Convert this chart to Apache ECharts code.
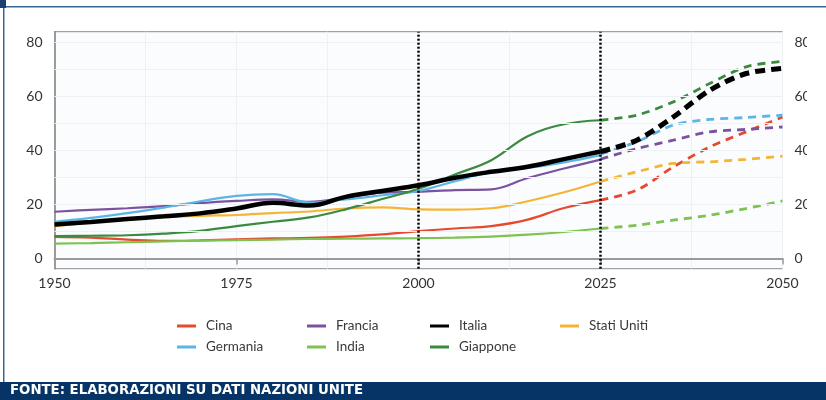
<!DOCTYPE html>
<html><head><meta charset="utf-8">
<script src="https://cdn.jsdelivr.net/npm/echarts@6/dist/echarts.min.js"></script>
<style>html,body{margin:0;padding:0;background:#fff}#c{width:826px;height:400px}</style>
</head><body><div id="c"></div><script>
const histYears = [1950,1955,1960,1965,1970,1975,1980,1985,1990,1995,2000,2005,2010,2015,2020,2025];
const projYears = [2025,2030,2035,2040,2045,2050];
const yTicks = [0,20,40,60,80];
const dividerYears = [2000,2025];
const gridValues = [10,20,30,40,50,60,70,80];

const cina      = [8.0,7.7,7.0,6.5,6.7,7.1,7.4,7.6,8.1,8.9,10.1,11.1,12.0,14.4,18.7,21.6];
const cinaProj  = [21.6,25.3,33.9,41.3,46.9,52.4];
const francia     = [17.3,18.0,18.6,19.4,20.5,21.3,21.9,21.0,22.5,24.4,24.7,25.3,25.6,29.8,33.3,36.6];
const franciaProj = [36.8,40.7,43.8,46.9,47.8,48.7];
const germania     = [13.6,15.0,16.8,18.8,21.2,23.2,23.8,20.7,21.9,23.4,25.0,28.6,32.0,33.5,35.6,38.3];
const germaniaProj = [38.6,43.2,49.4,51.5,52.2,53.1];
const italia     = [12.6,13.5,14.6,15.6,16.7,18.5,20.6,19.6,22.8,25.0,27.1,29.9,32.1,34.0,36.8,39.6];
const italiaProj = [39.6,43.8,52.4,62.3,68.5,70.4];
const statiUniti     = [12.0,13.3,14.5,15.3,15.8,16.1,16.8,17.4,18.5,18.9,18.2,18.1,18.6,21.2,24.5,28.5];
const statiUnitiProj = [28.5,32.1,35.2,35.8,36.7,37.9];
const giappone     = [8.3,8.4,8.6,9.2,10.2,12.0,13.6,15.2,18.2,22.0,25.8,31.1,36.4,45.3,49.7,51.2];
const giapponeProj = [51.2,53.1,58.0,64.8,71.0,73.0];
const india     = [5.5,5.7,6.0,6.3,6.6,6.8,7.0,7.2,7.3,7.4,7.5,7.7,8.1,8.8,9.8,11.1];
const indiaProj = [11.1,12.3,14.2,16.0,18.5,21.3];

const countries = [
  {name:'Cina', hist:cina, proj:cinaProj, color:'#e6492d', w:2.2, z:3},
  {name:'Francia', hist:francia, proj:franciaProj, color:'#7a529f', w:2.2, z:3},
  {name:'Germania', hist:germania, proj:germaniaProj, color:'#5bb5e6', w:2.2, z:3},
  {name:'Stati Uniti', hist:statiUniti, proj:statiUnitiProj, color:'#f4b536', w:2.2, z:3},
  {name:'India', hist:india, proj:indiaProj, color:'#7ec24f', w:2.2, z:3},
  {name:'Giappone', hist:giappone, proj:giapponeProj, color:'#3b8a40', w:2.2, z:4},
  {name:'Italia', hist:italia, proj:italiaProj, color:'#000000', w:4.5, z:5}
];

const FONT = 'Lato';
const series = [];
countries.forEach(c => {
  series.push({
    name:c.name, type:'line', smooth:0.4, symbol:'none', z:c.z,
    data: histYears.map((y,i)=>[y,c.hist[i]]),
    lineStyle:{color:c.color, width:c.w}, itemStyle:{color:c.color}
  });
  series.push({
    name:c.name, type:'line', smooth:0.3, symbol:'none', z:c.z,
    data: projYears.map((y,i)=>[y,c.proj[i]]),
    lineStyle:{color:c.color, width:c.w+0.6, type:[c.w>3?10:8, 6]}, itemStyle:{color:c.color}
  });
});
series.push({
  type:'line', data:[], silent:true, z:1,
  markLine:{silent:true, symbol:'none', label:{show:false},
    lineStyle:{color:'#eef1f4', width:1, type:'solid'},
    data: gridValues.map(v=>({yAxis:v}))}
});
series.push({
  type:'line', data:[], silent:true, z:6,
  markLine:{silent:true, symbol:'none', label:{show:false},
    lineStyle:{color:'#000', width:2.5, type:[2,2]},
    data: dividerYears.map(v=>({xAxis:v}))}
});

function legendCol(left, names){
  return {
    orient:'vertical', left:left, top:314, itemGap:7, itemWidth:19, itemHeight:3, icon:'rect',
    textStyle:{fontFamily:FONT, fontSize:13.5, color:'#3a3a3a', padding:[0,0,0,5]},
    data:names
  };
}

const chart = echarts.init(document.getElementById('c'), null, {renderer:'canvas'});
chart.setOption({
  animation:false,
  backgroundColor:'#ffffff',
  grid:{left:54.5, right:43.5, top:31.7, bottom:131.3, show:true,
        backgroundColor:'#fbfcfd', borderColor:'#8c8c8c', borderWidth:1},
  xAxis:{type:'value', min:1950, max:2050, interval:25,
    axisLine:{show:true, lineStyle:{color:'#9a9a9a', width:2}},
    axisTick:{show:true, length:6, lineStyle:{color:'#999', width:1.5}},
    minorTick:{show:false, splitNumber:2},
    axisLabel:{fontFamily:FONT, fontSize:14, color:'#333', margin:8, formatter:v=>String(v)},
    splitLine:{show:true, lineStyle:{color:'#eef1f4'}},
    minorSplitLine:{show:true, lineStyle:{color:'#eef1f4'}}
  },
  yAxis:[
    {type:'value', min:-3.8, max:84, position:'left',
     axisLine:{show:true, lineStyle:{color:'#7d7d7d', width:1.5}},
     axisTick:{show:false},
     splitLine:{show:false},
     axisLabel:{fontFamily:FONT, fontSize:14, color:'#333', margin:12, customValues:yTicks}
    },
    {type:'value', min:-3.8, max:84, position:'right',
     axisLine:{show:false}, axisTick:{show:false}, splitLine:{show:false},
     axisLabel:{fontFamily:FONT, fontSize:14, color:'#333', margin:12, customValues:yTicks}
    }
  ],
  legend:[
    legendCol(172, ['Cina','Germania']),
    legendCol(302, ['Francia','India']),
    legendCol(425, ['Italia','Giappone']),
    legendCol(555, ['Stati Uniti'])
  ],
  series: series,
  graphic:[
    {type:'rect', left:807, top:25, shape:{width:19, height:290}, style:{fill:'#ffffff'}, z:100},
    {type:'rect', left:0, top:6, shape:{width:826, height:1.5}, style:{fill:'#3d6593'}, z:100},
    {type:'rect', left:3, top:6, shape:{width:1.5, height:376}, style:{fill:'#3d6593'}, z:100},
    {type:'rect', left:0, top:0, shape:{width:6, height:8}, style:{fill:'#1d3f70'}, z:101},
    {type:'rect', left:0, top:382, shape:{width:826, height:18}, style:{fill:'#063466'}, z:100},
    {type:'text', left:10, top:384, style:{text:'FONTE: ELABORAZIONI SU DATI NAZIONI UNITE',
      fill:'#ffffff', font:'bold 13.3px "DejaVu Sans"'}, z:101}
  ]
});
</script></body></html>
